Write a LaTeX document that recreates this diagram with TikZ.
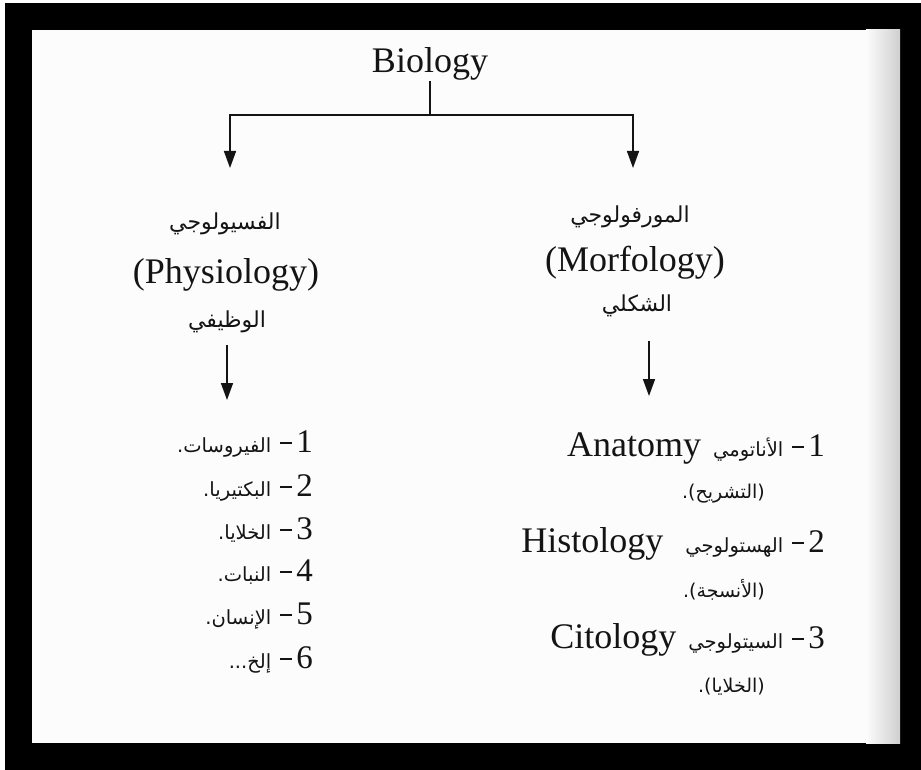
\documentclass[tikz,border=0pt]{standalone}
\usepackage{fontspec}
\setmainfont{Liberation Serif}
\newfontfamily\arabicfont[Script=Arabic]{DejaVu Sans}
\TeXXeTstate=1
\usetikzlibrary{arrows.meta}
\definecolor{scanBlack}{HTML}{000000}
\definecolor{pageWhite}{HTML}{FCFCFC}
\definecolor{pageShade}{HTML}{CFCFCF}
\definecolor{inkBlack}{HTML}{141414}
\tikzset{
  headword/.style={font=\fontsize{36}{40}\selectfont,inner sep=0pt,anchor=base,text=inkBlack},
  arhead/.style={font=\arabicfont\fontsize{22}{26}\selectfont,inner sep=0pt,text=inkBlack},
  entry/.style={font=\fontsize{36}{40}\selectfont,inner sep=0pt,anchor=base east,text=inkBlack},
  arnote/.style={font=\arabicfont\fontsize{19}{23}\selectfont,inner sep=0pt,anchor=east,text=inkBlack},
  branch/.style={line width=1.6pt,inkBlack},
  flow/.style={branch,-{Triangle[width=12pt,length=17pt]}}
}
\newcommand{\arsmall}[1]{{\arabicfont\fontsize{19.5}{24}\selectfont\beginR #1\endR}}
\newcommand{\numtag}[1]{\hspace{9pt}\rule[8.5pt]{12pt}{1.3pt}\hspace{4pt}{\fontsize{33}{36}\selectfont #1}}

\begin{document}
\begin{tikzpicture}[x=1pt,y=-1pt]
  \useasboundingbox (0,0) rectangle (921,770);
  % scanned page with black frame
  \fill[white] (0,0) rectangle (921,770);
  \fill[scanBlack] (5,3) rectangle (921,770);
  \fill[pageWhite] (32,30) rectangle (900,743);
  \shade[left color=pageWhite,right color=pageShade] (866,30) rectangle (900,743);

  % top of the tree
  \node[headword] (bio) at (430,73) {Biology};
  \coordinate (fork) at (430,115);
  \coordinate (physin) at (230,168);
  \coordinate (morfin) at (633,168);
  \draw[branch] (bio.south) -- (fork);
  \foreach \t in {physin,morfin}{\draw[flow] (fork) -| (\t);}

  % the two branches
  \node[arhead] (physar) at (225,224) {\beginR الفسيولوجي\endR};
  \node[headword] (phys) at (226,283) {(Physiology)};
  \node[arhead] (physsub) at (227,322) {\beginR الوظيفي\endR};
  \node[arhead] (morfar) at (630,217) {\beginR المورفولوجي\endR};
  \node[headword] (morf) at (635,272) {(Morfology)};
  \node[arhead] (morfsub) at (637,306) {\beginR الشكلي\endR};

  % left list
  \node[entry] (v1) at (313,452) {\arsmall{الفيروسات.}\numtag{1}};
  \node[entry] (v2) at (313,496) {\arsmall{البكتيريا.}\numtag{2}};
  \node[entry] (v3) at (313,539) {\arsmall{الخلايا.}\numtag{3}};
  \node[entry] (v4) at (313,581) {\arsmall{النبات.}\numtag{4}};
  \node[entry] (v5) at (313,624) {\arsmall{الإنسان.}\numtag{5}};
  \node[entry] (v6) at (313,668) {\arsmall{إلخ...}\numtag{6}};

  % right list
  \node[entry] (a1) at (825,456) {Anatomy\hspace{12pt}\arsmall{الأناتومي}\numtag{1}};
  \node[arnote] (a1n) at (765,494) {\beginR(التشريح).\endR};
  \node[entry] (a2) at (825,552) {Histology\hspace{22pt}\arsmall{الهستولوجي}\numtag{2}};
  \node[arnote] (a2n) at (765,590) {\beginR(الأنسجة).\endR};
  \node[entry] (a3) at (825,648) {Citology\hspace{12pt}\arsmall{السيتولوجي}\numtag{3}};
  \node[arnote] (a3n) at (765,687) {\beginR(الخلايا).\endR};

  % arrows into the lists
  \draw[flow,shorten <=12pt,shorten >=30pt] (physsub.south) -- (physsub.south |- v1.north);
  \draw[flow,shorten <=24pt,shorten >=36pt] ([xshift=12pt]morfsub.south) -- ([xshift=12pt]morfsub.south |- a1.north);
\end{tikzpicture}
\end{document}
